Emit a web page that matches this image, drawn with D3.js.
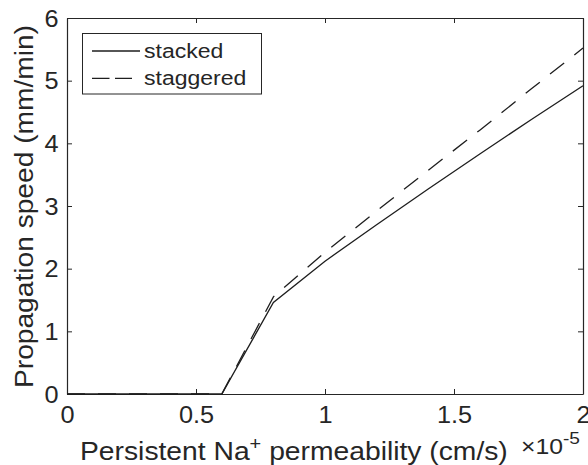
<!DOCTYPE html>
<html>
<head>
<meta charset="utf-8">
<script src="https://cdn.jsdelivr.net/npm/d3@7"></script>
<style>
  html, body { margin: 0; padding: 0; background: #fff; }
  svg { display: block; font-family: "Liberation Sans", Arial, Helvetica, sans-serif; }
</style>
</head>
<body>
<svg id="chart" width="588" height="465"></svg>
<script>
// Persistent Na+ permeability (units of 1e-5 cm/s)
const permeability = [0, 0.6, 0.8, 1.0, 1.2, 1.4, 1.6, 1.8, 2.0];
// Propagation speed (mm/min) for each arrangement
const stacked   = [0, 0, 1.46, 2.12, 2.70, 3.27, 3.83, 4.38, 4.92];
const staggered = [0, 0, 1.55, 2.26, 2.92, 3.57, 4.21, 4.87, 5.52];
const seriesNames = ["stacked", "staggered"];
const xTicks = [0, 0.5, 1, 1.5, 2];
const xTickLabels = ["0", "0.5", "1", "1.5", "2"];
const yTicks = [0, 1, 2, 3, 4, 5, 6];

const svg = d3.select("#chart");
const margin = { left: 67, right: 5, top: 18, bottom: 71 };
const W = 588, H = 465;
const x = d3.scaleLinear().domain([0, 2]).range([margin.left, W - margin.right]);
const y = d3.scaleLinear().domain([0, 6]).range([H - margin.bottom, margin.top]);

const axisColor = "#262626";
const lineColor = "#1e1e1e";
const tickLen = 5;
const widen = 1.1;   // glyphs are drawn slightly wide

// stretch a text element along its baseline by a factor, keeping its anchor
function stretch(sel, f) {
  sel.each(function () {
    const len = this.getComputedTextLength();
    d3.select(this).attr("textLength", len * f).attr("lengthAdjust", "spacingAndGlyphs");
  });
}

// axes box with inward ticks on all four sides
const gx = svg.append("g").attr("transform", `translate(0,${y(0)})`)
  .call(d3.axisBottom(x).tickValues(xTicks).tickFormat((d, i) => xTickLabels[i])
    .tickSizeInner(-tickLen).tickSizeOuter(0).tickPadding(0));
const gxTop = svg.append("g").attr("transform", `translate(0,${y(6)})`)
  .call(d3.axisTop(x).tickValues(xTicks).tickFormat("").tickSizeInner(-tickLen).tickSizeOuter(0));
const gy = svg.append("g").attr("transform", `translate(${x(0)},0)`)
  .call(d3.axisLeft(y).tickValues(yTicks).tickFormat(d3.format("d"))
    .tickSizeInner(-tickLen).tickSizeOuter(0).tickPadding(8.5));
const gyRight = svg.append("g").attr("transform", `translate(${x(2)},0)`)
  .call(d3.axisRight(y).tickValues(yTicks).tickFormat("").tickSizeInner(-tickLen).tickSizeOuter(0));

[gx, gxTop, gy, gyRight].forEach(g => {
  g.select(".domain").attr("stroke", axisColor).attr("stroke-width", 1.2);
  g.selectAll(".tick line").attr("stroke", axisColor).attr("stroke-width", 1);
  g.selectAll(".tick text").attr("fill", axisColor).style("font-size", "23px")
    .style("font-family", "'Liberation Sans', Arial, sans-serif");
});
gx.selectAll(".tick text").attr("y", 28.5).attr("dy", null);
gy.selectAll(".tick text").attr("dy", "0.35em");
stretch(gx.selectAll(".tick text"), widen);
stretch(gy.selectAll(".tick text"), widen);

// data lines
const line = d3.line().x((d, i) => x(permeability[i])).y(d => y(d));
svg.append("path").datum(stacked)
  .attr("d", line).attr("fill", "none").attr("stroke", lineColor).attr("stroke-width", 1.3);
svg.append("path").datum(staggered)
  .attr("d", line).attr("fill", "none").attr("stroke", lineColor).attr("stroke-width", 1.3)
  .attr("stroke-dasharray", "18,13");

// x axis label with superscript, widened to its drawn span
const xl = svg.append("text").attr("fill", axisColor).style("font-size", "25.5px");
xl.append("tspan").text("Persistent Na");
xl.append("tspan").attr("dy", -10).style("font-size", "18px").text("+");
xl.append("tspan").attr("dy", 10).text(" permeability (cm/s)");
const xlw = xl.node().getBBox().width;
xl.attr("transform", `translate(80,460) scale(${428 / xlw},1)`);

// exponent multiplier
const ex = svg.append("text").attr("fill", axisColor).style("font-size", "22px");
ex.append("tspan").text("\u00d710");
ex.append("tspan").attr("dy", -10).style("font-size", "17px").text("-5");
const exw = ex.node().getBBox().width;
ex.attr("transform", `translate(521,454) scale(${59 / exw},1)`);

// y axis label
svg.append("text")
  .attr("transform", `translate(33,${(y(0) + y(6)) / 2 + 0.5}) rotate(-90)`)
  .attr("text-anchor", "middle").attr("fill", axisColor).style("font-size", "26px")
  .attr("textLength", 363).attr("lengthAdjust", "spacingAndGlyphs")
  .text("Propagation speed (mm/min)");

// legend
const lg = svg.append("g");
lg.append("rect").attr("x", 82.5).attr("y", 33.5).attr("width", 179).attr("height", 60.5)
  .attr("fill", "#fff").attr("stroke", axisColor).attr("stroke-width", 1);
seriesNames.forEach((name, i) => {
  const yy = 51 + i * 27.3;
  lg.append("line").attr("x1", 92).attr("x2", i === 1 ? 132 : 140).attr("y1", yy).attr("y2", yy)
    .attr("stroke", lineColor).attr("stroke-width", 1.3)
    .attr("stroke-dasharray", i === 1 ? "17.5,5.5" : null);
  const t = lg.append("text").attr("x", 144).attr("y", yy + 6.5)
    .attr("fill", axisColor).style("font-size", "19.5px").text(name);
  stretch(t, 1.18);
});
</script>
</body>
</html>
